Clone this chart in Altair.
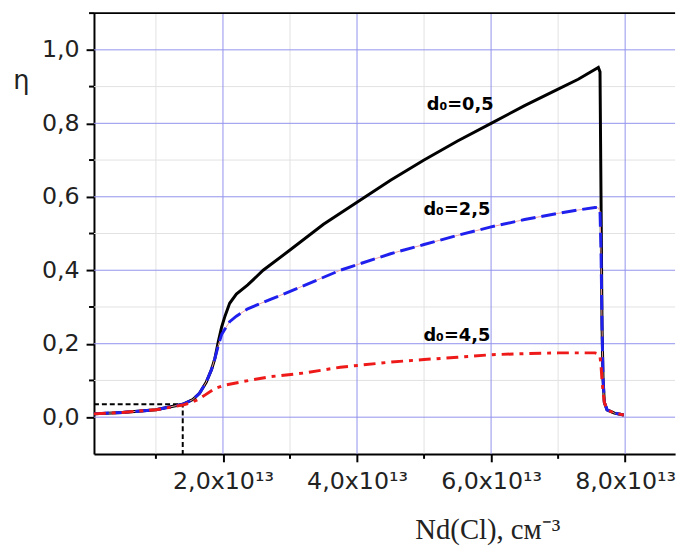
import altair as alt
import pandas as pd

# ---- data (x in units of 1e13 cm^-3) ----
black_x = [0.076, 0.5, 1.0, 1.4, 1.55, 1.65, 1.75, 1.83, 1.88, 1.93, 1.98, 2.03, 2.1, 2.2, 2.37, 2.6,
           3.0, 3.5, 4.0, 4.5, 5.0, 5.5, 6.0, 6.5, 7.0, 7.3, 7.6, 7.625, 7.64, 7.655, 7.67, 7.69, 7.73, 7.84, 7.98]
black_y = [0.009, 0.013, 0.02, 0.035, 0.048, 0.065, 0.095, 0.13, 0.16, 0.205, 0.245, 0.275, 0.31, 0.335, 0.36, 0.40,
           0.455, 0.525, 0.585, 0.645, 0.70, 0.752, 0.80, 0.848, 0.893, 0.92, 0.952, 0.94, 0.6, 0.25, 0.105, 0.04, 0.02, 0.011, 0.006]

blue_x = [0.076, 0.5, 1.0, 1.4, 1.55, 1.65, 1.75, 1.83, 1.88, 1.93, 1.98, 2.03, 2.1, 2.2, 2.37, 2.7, 3.1, 3.75,
          4.5, 5.0, 5.5, 6.0, 6.5, 7.0, 7.3, 7.55, 7.6, 7.625, 7.64, 7.655, 7.67, 7.69, 7.73, 7.84, 7.98]
blue_y = [0.009, 0.013, 0.02, 0.035, 0.048, 0.065, 0.095, 0.13, 0.16, 0.195, 0.225, 0.24, 0.26, 0.275, 0.295, 0.32, 0.35, 0.40,
          0.445, 0.47, 0.495, 0.518, 0.538, 0.555, 0.564, 0.571, 0.57, 0.56, 0.45, 0.25, 0.105, 0.04, 0.02, 0.011, 0.006]

red_x = [0.076, 0.5, 1.0, 1.4, 1.53, 1.63, 1.73, 1.88, 2.02, 2.3, 2.7, 3.2, 3.75, 4.5, 5.0, 5.5, 6.0, 6.5, 7.0,
         7.55, 7.6, 7.625, 7.64, 7.655, 7.67, 7.69, 7.73, 7.84, 7.98]
red_y = [0.009, 0.013, 0.02, 0.033, 0.04, 0.048, 0.06, 0.078, 0.087, 0.097, 0.11, 0.12, 0.136, 0.15, 0.157, 0.163, 0.17, 0.173, 0.175,
         0.175, 0.172, 0.165, 0.14, 0.1, 0.07, 0.04, 0.02, 0.011, 0.006]

guide_x = [0.076, 1.4, 1.4]
guide_y = [0.035, 0.035, -0.1]

labels_text = ["d\u2080=0,5", "d\u2080=2,5", "d\u2080=4,5"]
labels_x = [5.04, 4.99, 4.99]
labels_y = [0.85, 0.563, 0.22]

x_major = [2, 4, 6, 8]
x_minor = [1, 3, 5, 7]
y_major = [0.0, 0.2, 0.4, 0.6, 0.8, 1.0]
y_minor = [0.1, 0.3, 0.5, 0.7, 0.9, 1.1]

X_DOMAIN = [0.076, 8.745]
Y_DOMAIN = [-0.1, 1.1]
W, H = 588, 446

xs = alt.Scale(domain=X_DOMAIN, nice=False, zero=False)
ys = alt.Scale(domain=Y_DOMAIN, nice=False, zero=False)

x_axis = alt.Axis(values=x_major, tickSize=8, labelFontSize=24, labelFont="DejaVu Sans",
                  labelExpr="replace(format(datum.value, '.1f'), '.', ',') + 'x10\u00b9\u00b3'",
                  labelPadding=8, title="Nd(Cl), см\u207b\u00b3", titleFont="Liberation Serif",
                  titleFontSize=29, titleFontWeight="normal", titleX=398, titleY=86,
                  titleAlign="center", titleBaseline="alphabetic", titleColor="#222")
y_axis = alt.Axis(values=y_major, tickSize=8, labelFontSize=24, labelFont="DejaVu Sans",
                  labelExpr="replace(format(datum.value, '.1f'), '.', ',')",
                  labelPadding=7, title="η", titleAngle=0, titleFont="DejaVu Sans",
                  titleFontSize=26, titleFontWeight="normal", titleX=-74, titleY=68,
                  titleAlign="center", titleBaseline="middle", titleColor="#222")


def X(field="x"):
    return alt.X(f"{field}:Q", scale=xs, axis=x_axis)


def Y(field="y"):
    return alt.Y(f"{field}:Q", scale=ys, axis=y_axis)


df_black = pd.DataFrame({"x": black_x, "y": black_y, "i": range(len(black_x))})
df_blue = pd.DataFrame({"x": blue_x, "y": blue_y, "i": range(len(blue_x))})
df_red = pd.DataFrame({"x": red_x, "y": red_y, "i": range(len(red_x))})
df_guide = pd.DataFrame({"x": guide_x, "y": guide_y, "i": range(len(guide_x))})
df_lab = pd.DataFrame({"x": labels_x, "y": labels_y, "t": labels_text})

grid_minor_x = alt.Chart(pd.DataFrame({"x": x_minor})).mark_rule(color="#e2e2e2", strokeWidth=1).encode(x=X())
grid_minor_y = alt.Chart(pd.DataFrame({"y": y_minor[:-1]})).mark_rule(color="#e2e2e2", strokeWidth=1).encode(y=Y())
grid_major_x = alt.Chart(pd.DataFrame({"x": x_major})).mark_rule(color="#9292ee", strokeWidth=1).encode(x=X())
grid_major_y = alt.Chart(pd.DataFrame({"y": y_major})).mark_rule(color="#9292ee", strokeWidth=1).encode(y=Y())

minor_ticks_y = alt.Chart(pd.DataFrame({"y": y_minor})).mark_rule(color="black", strokeWidth=2).encode(
    y=Y(), x=alt.value(-5), x2=alt.value(0))
minor_ticks_x = alt.Chart(pd.DataFrame({"x": x_minor})).mark_rule(color="black", strokeWidth=2).encode(
    x=X(), y=alt.value(H), y2=alt.value(H + 5))

top_border = alt.Chart(pd.DataFrame({"a": [0]})).mark_rule(color="black", strokeWidth=2).encode(
    y=alt.value(0), x=alt.value(0), x2=alt.value(W))

guide = alt.Chart(df_guide).mark_line(color="black", strokeWidth=2, strokeDash=[5, 3]).encode(
    x=X(), y=Y(), order="i:Q")

black = alt.Chart(df_black).mark_line(color="black", strokeWidth=3).encode(x=X(), y=Y(), order="i:Q")
pink = alt.Chart(df_blue).mark_line(color="#f0a0a0", strokeWidth=1).encode(x=X(), y=Y(), order="i:Q")
blue = alt.Chart(df_blue).mark_line(color="#1f1fee", strokeWidth=3, strokeDash=[15, 6]).encode(
    x=X(), y=Y(), order="i:Q")
red = alt.Chart(df_red).mark_line(color="#ee1a1a", strokeWidth=3, strokeDash=[12, 6, 4, 6]).encode(
    x=X(), y=Y(), order="i:Q")

labels = alt.Chart(df_lab).mark_text(font="DejaVu Sans", fontSize=18, fontWeight="bold", align="left",
                                     baseline="middle", color="black").encode(x=X(), y=Y(), text="t:N")

chart = alt.layer(
    grid_minor_x, grid_minor_y, grid_major_x, grid_major_y, top_border,
    guide, black, pink, blue, red, labels, minor_ticks_y, minor_ticks_x,
).properties(
    width=W, height=H,
    autosize=alt.AutoSizeParams(type="none"),
    padding={"left": 87, "top": 2, "right": 8, "bottom": 90},
).configure_view(stroke=None).configure_axis(
    grid=False, domainColor="black", domainWidth=2, tickColor="black", tickWidth=2,
    labelColor="#222",
)

chart.save("out.html", embed_options={"renderer": "svg", "actions": False})
